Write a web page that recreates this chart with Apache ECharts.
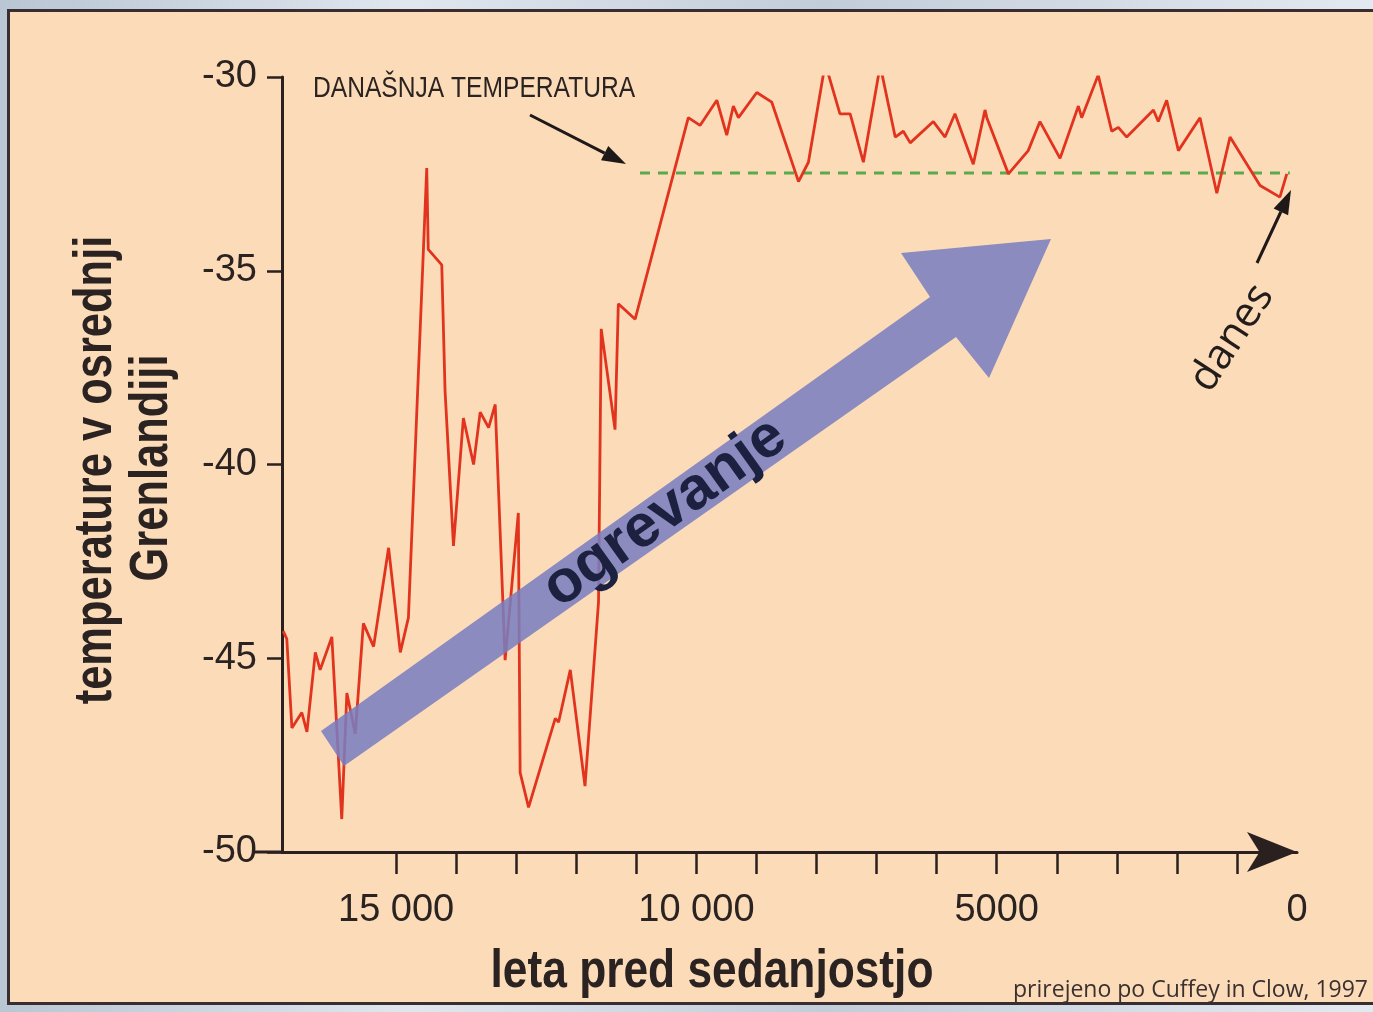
<!DOCTYPE html>
<html>
<head>
<meta charset="utf-8">
<title>Temperature v osrednji Grenlandiji</title>
<script src="https://cdn.jsdelivr.net/npm/echarts@6/dist/echarts.min.js"></script>
<style>
  html, body { margin: 0; padding: 0; width: 1373px; height: 1012px; overflow: hidden;
    background: linear-gradient(90deg, #b9c6d4 0%, #dfe6ee 30%, #c2cdda 60%, #e3e9f0 100%); }
  #panel { position: absolute; left: 7px; top: 9px; width: 1366px; height: 996px;
    box-sizing: border-box; background: #fcdcb8; border: 3px solid #3a2d2f; border-right: none; }
  #chart { position: absolute; left: 0; top: 0; width: 1373px; height: 1012px; }
</style>
</head>
<body>
<div id="panel"></div>
<div id="chart"></div>
<script>
// leta pred sedanjostjo / temperatura (°C)
var years = [16880, 16820, 16735, 16570, 16485, 16345, 16265, 16070, 15905, 15820,
    15680, 15545, 15375, 15125, 14930, 14795, 14490, 14465, 14240, 14185,
    14045, 13880, 13710, 13600, 13460, 13350, 13185, 12965, 12935, 12795,
    12350, 12295, 12100, 11855, 11630, 11585, 11355, 11300, 11020, 10135,
    9940, 9660, 9495, 9385, 9300, 8995, 8745, 8300, 8135, 7855,
    7610, 7440, 7220, 6940, 6690, 6555, 6440, 6055, 5860, 5695,
    5390, 5195, 5165, 4805, 4475, 4280, 3945, 3640, 3585, 3310,
    3085, 2975, 2835, 2390, 2310, 2170, 1975, 1615, 1335, 1115,
    615, 285, 170];
var temps = [-44.3, -44.5, -46.8, -46.4, -46.9, -44.85, -45.3, -44.45, -49.15, -45.9,
    -46.95, -44.1, -44.7, -42.15, -44.85, -43.95, -32.35, -34.45, -34.85, -38.1,
    -42.1, -38.8, -40.0, -38.65, -39.05, -38.45, -45.05, -41.25, -47.95, -48.85,
    -46.55, -46.65, -45.3, -48.3, -43.55, -36.5, -39.1, -35.85, -36.25, -31.05,
    -31.25, -30.6, -31.5, -30.75, -31.05, -30.4, -30.65, -32.7, -32.2, -29.65,
    -30.95, -30.95, -32.2, -29.7, -31.55, -31.4, -31.7, -31.15, -31.55, -30.95,
    -32.25, -30.85, -31.05, -32.5, -31.9, -31.15, -32.1, -30.75, -31.05, -29.95,
    -31.4, -31.3, -31.55, -30.85, -31.15, -30.6, -31.9, -31.05, -33.0, -31.55,
    -32.8, -33.1, -32.5];

// današnja temperatura
var todayYears = [10940, 120];
var todayTemp = -32.48;

var xTickYears = [1000, 2000, 3000, 4000, 5000, 6000, 7000, 8000, 9000, 10000,
    11000, 12000, 13000, 14000, 15000];
var xLabelYears = [0, 5000, 10000, 15000];
var xLabelText = ['0', '5000', '10 000', '15 000'];

var lineData = [];
for (var i = 0; i < years.length; i++) {
    lineData.push([years[i], temps[i]]);
}
var todayData = [];
for (var j = 0; j < todayYears.length; j++) {
    todayData.push([todayYears[j], todayTemp]);
}

var sans = '"Liberation Sans", Arial, sans-serif';
var ink = '#2a2020';
var txt = '#2b2321';
var narrowX = 0.82;

function arrowHead(x1, y1, x2, y2, len, half) {
    var dx = x2 - x1, dy = y2 - y1;
    var d = Math.sqrt(dx * dx + dy * dy);
    var ux = dx / d, uy = dy / d;
    var bx = x2 - ux * len, by = y2 - uy * len;
    return {
        head: [[x2, y2], [bx - uy * half, by + ux * half], [bx + uy * half, by - ux * half]],
        base: [bx, by]
    };
}

var a1 = arrowHead(530, 115, 626, 164, 24, 8);
var a2 = arrowHead(1257, 263, 1291, 190, 24, 8);

var chart = echarts.init(document.getElementById('chart'));
var option = {
    backgroundColor: 'transparent',
    animation: false,
    grid: { left: 282, right: 76, top: 77, bottom: 160 },
    xAxis: {
        type: 'value',
        inverse: true,
        min: 0,
        max: 16900,
        axisLine: {
            show: true,
            onZero: false,
            symbol: ['none', 'arrow'],
            symbolSize: [30, 50],
            symbolOffset: [0, 0],
            lineStyle: { color: ink, width: 3 }
        },
        axisTick: {
            show: true,
            customValues: xTickYears,
            length: 22,
            lineStyle: { color: ink, width: 2.5 }
        },
        axisLabel: {
            customValues: xLabelYears,
            margin: 40,
            fontFamily: sans,
            fontSize: 38,
            color: txt,
            formatter: function (v) {
                var k = xLabelYears.indexOf(v);
                return k >= 0 ? xLabelText[k] : '';
            }
        },
        splitLine: { show: false }
    },
    yAxis: {
        type: 'value',
        position: 'left',
        min: -50,
        max: -30,
        interval: 5,
        axisLine: { show: true, onZero: false, lineStyle: { color: ink, width: 3 } },
        axisTick: { show: true, length: 15, lineStyle: { color: ink, width: 2.5 } },
        axisLabel: { margin: 25, fontFamily: sans, fontSize: 38, color: txt },
        splitLine: { show: false }
    },
    series: [
        {
            name: 'temperatura',
            type: 'line',
            data: lineData,
            symbol: 'none',
            z: 3,
            lineStyle: { color: '#e2331f', width: 2.8 }
        },
        {
            name: 'današnja temperatura',
            type: 'line',
            data: todayData,
            symbol: 'none',
            z: 2,
            lineStyle: { color: '#5aa94a', width: 3, type: [10, 8] }
        }
    ],
    graphic: [
        // x os podaljšek levo
        { type: 'line', z: 10, shape: { x1: 253, y1: 852, x2: 283, y2: 852 },
          style: { stroke: ink, lineWidth: 3 } },
        // velika puščica "ogrevanje"
        { type: 'polygon', z: 20,
          shape: { points: [[321, 731], [930, 297], [901, 253], [1051, 239], [989, 378], [956, 337], [344, 766]] },
          style: { fill: 'rgba(120,126,192,0.86)' } },
        { type: 'text', z: 21, x: 665, y: 513, rotation: 35.5 * Math.PI / 180,
          style: { text: 'ogrevanje', fill: '#1c2140', font: 'bold 60px ' + sans,
                   textAlign: 'center', textVerticalAlign: 'middle' } },
        // današnja temperatura
        { type: 'text', z: 10, x: 313, y: 89, scaleX: narrowX,
          style: { text: 'DANAŠNJA TEMPERATURA', fill: txt, font: '30px ' + sans,
                   textAlign: 'left', textVerticalAlign: 'middle' } },
        { type: 'line', z: 10, shape: { x1: 530, y1: 115, x2: a1.base[0], y2: a1.base[1] },
          style: { stroke: '#1e1818', lineWidth: 3 } },
        { type: 'polygon', z: 10, shape: { points: a1.head }, style: { fill: '#1e1818' } },
        // danes
        { type: 'text', z: 10, x: 1232, y: 338, rotation: 57 * Math.PI / 180,
          style: { text: 'danes', fill: '#231c1c', font: '42px "Open Sans", "Noto Sans", sans-serif',
                   textAlign: 'center', textVerticalAlign: 'middle' } },
        { type: 'line', z: 10, shape: { x1: 1257, y1: 263, x2: a2.base[0], y2: a2.base[1] },
          style: { stroke: '#1e1818', lineWidth: 3 } },
        { type: 'polygon', z: 10, shape: { points: a2.head }, style: { fill: '#1e1818' } },
        // imena osi
        { type: 'text', z: 10, x: 96, y: 470, rotation: Math.PI / 2, scaleX: narrowX,
          style: { text: 'temperature v osrednji', fill: txt, font: 'bold 53px ' + sans,
                   textAlign: 'center', textVerticalAlign: 'middle' } },
        { type: 'text', z: 10, x: 152, y: 468, rotation: Math.PI / 2, scaleX: narrowX,
          style: { text: 'Grenlandiji', fill: txt, font: 'bold 53px ' + sans,
                   textAlign: 'center', textVerticalAlign: 'middle' } },
        { type: 'text', z: 10, x: 712, y: 972, scaleX: narrowX,
          style: { text: 'leta pred sedanjostjo', fill: txt, font: 'bold 54px ' + sans,
                   textAlign: 'center', textVerticalAlign: 'middle' } },
        { type: 'text', z: 10, x: 1368, y: 990,
          style: { text: 'prirejeno po Cuffey in Clow, 1997', fill: '#3a3030', font: '23px "Open Sans", "Noto Sans", sans-serif',
                   textAlign: 'right', textVerticalAlign: 'middle' } }
    ]
};
chart.setOption(option);
</script>
</body>
</html>
